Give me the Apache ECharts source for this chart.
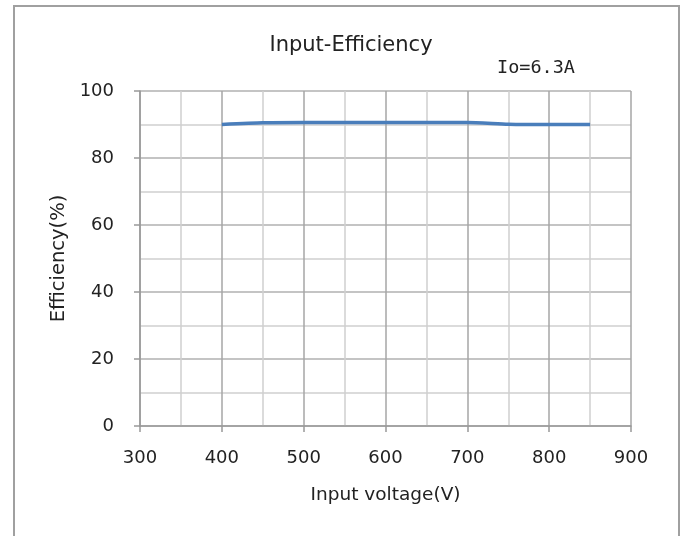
<!DOCTYPE html>
<html>
<head>
<meta charset="utf-8">
<script src="https://cdn.jsdelivr.net/npm/echarts@6/dist/echarts.min.js"></script>
<style>
  html, body { margin: 0; padding: 0; background: #fff; }
  #chart { width: 687px; height: 536px; }
</style>
</head>
<body>
<div id="chart"></div>
<script>
// input voltage (V) and efficiency (%) at Io = 6.3A
var voltages = [400, 450, 500, 550, 600, 650, 700, 750, 800, 850];
var efficiency = [90.0, 90.5, 90.6, 90.6, 90.6, 90.6, 90.6, 90.1, 90.0, 90.0];
var xTicks = [300, 400, 500, 600, 700, 800, 900];
var yTicks = [0, 20, 40, 60, 80, 100];

var font = 'DejaVu Sans';
var myChart = echarts.init(document.getElementById('chart'));

var points = voltages.map(function (v, i) { return [v, efficiency[i]]; });

var chartOption = {
    backgroundColor: '#fff',
    animation: false,
    title: {
        text: 'Input-Efficiency',
        left: 346,
        top: 30,
        textAlign: 'center',
        textStyle: { fontFamily: font, fontSize: 21, fontWeight: 'normal', color: '#222' }
    },
    grid: { left: 140, right: 56, top: 91, bottom: 110 },
    xAxis: {
        type: 'value',
        min: xTicks[0],
        max: xTicks[xTicks.length - 1],
        interval: 100,
        name: 'Input voltage(V)',
        nameLocation: 'middle',
        nameGap: 60,
        nameTextStyle: { fontFamily: font, fontSize: 18.5, color: '#222' },
        axisLine: { lineStyle: { color: '#999', width: 1.5 } },
        axisTick: { show: true, length: 6, lineStyle: { color: '#999', width: 1.5 } },
        axisLabel: { fontFamily: font, fontSize: 18, color: '#222', margin: 23 },
        splitLine: { lineStyle: { color: '#a6a6a6', width: 1.5 } },
        minorTick: { show: false, splitNumber: 2 },
        minorSplitLine: { show: true, lineStyle: { color: '#d0d0d0', width: 1.5 } }
    },
    yAxis: {
        type: 'value',
        min: yTicks[0],
        max: yTicks[yTicks.length - 1],
        interval: 20,
        name: 'Efficiency(%)',
        nameLocation: 'middle',
        nameGap: 70,
        nameTextStyle: { fontFamily: font, fontSize: 19.5, color: '#222' },
        axisLine: { show: true, lineStyle: { color: '#999', width: 1.5 } },
        axisTick: { show: true, length: 6, lineStyle: { color: '#999', width: 1.5 } },
        axisLabel: { fontFamily: font, fontSize: 18, color: '#222', margin: 26 },
        splitLine: { lineStyle: { color: '#b0b0b0', width: 1.5 } },
        minorTick: { show: false, splitNumber: 2 },
        minorSplitLine: { show: true, lineStyle: { color: '#d0d0d0', width: 1.5 } }
    },
    graphic: [
        {
            type: 'rect',
            shape: { x: 14, y: 6, width: 665, height: 560 },
            style: { fill: 'none', stroke: '#a0a0a0', lineWidth: 2 },
            z: 100
        },
        {
            type: 'text',
            left: 497,
            top: 59,
            style: { text: 'Io=6.3A', font: '18.5px "DejaVu Sans Mono"', fill: '#222' }
        }
    ],
    series: [{
        name: 'Io=6.3A',
        type: 'line',
        data: points,
        showSymbol: false,
        smooth: 0.2,
        lineStyle: { color: '#4a7ebb', width: 3.5 },
        z: 5
    }]
};
myChart.setOption(chartOption);
</script>
</body>
</html>
